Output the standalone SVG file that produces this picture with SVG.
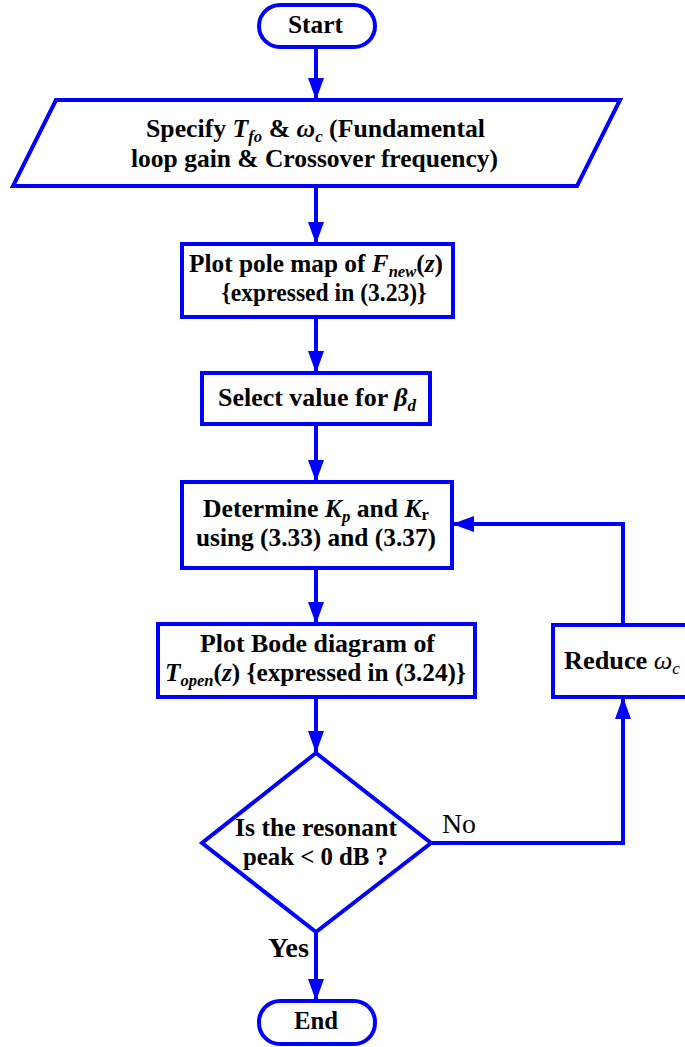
<svg xmlns="http://www.w3.org/2000/svg" width="685" height="1047" viewBox="0 0 685 1047">
<defs>
<style>
.shape{fill:#fff;stroke:#0000ff;stroke-width:4;stroke-linejoin:miter}
.conn{fill:none;stroke:#0000ff;stroke-width:4}
.t{font-family:"Liberation Serif","Times New Roman",serif;font-weight:bold;font-size:26px;fill:#000}
.m{font-style:italic}
.s{font-size:17px;font-style:italic}
.lbl{font-family:"Liberation Serif","Times New Roman",serif;fill:#000}
</style>
<marker id="ah" viewBox="0 0 22 16" refX="22" refY="8" markerWidth="22" markerHeight="16" markerUnits="userSpaceOnUse" orient="auto">
<path d="M0,0 L22,8 L0,16 z" fill="#0000ff"/>
</marker>
</defs>
<rect width="685" height="1047" fill="#fff"/>

<g id="connectors">
<line class="conn" x1="316" y1="48" x2="316" y2="100" marker-end="url(#ah)"/>
<line class="conn" x1="316" y1="186" x2="316" y2="244" marker-end="url(#ah)"/>
<line class="conn" x1="316" y1="317" x2="316" y2="373" marker-end="url(#ah)"/>
<line class="conn" x1="316" y1="424" x2="316" y2="482" marker-end="url(#ah)"/>
<line class="conn" x1="316" y1="568" x2="316" y2="624" marker-end="url(#ah)"/>
<line class="conn" x1="316" y1="697" x2="316" y2="753" marker-end="url(#ah)"/>
<line class="conn" x1="316" y1="932" x2="316" y2="1001" marker-end="url(#ah)"/>
<polyline class="conn" points="431,843 623,843 623,697" marker-end="url(#ah)"/>
<polyline class="conn" points="623,625 623,524 452,524" marker-end="url(#ah)"/>
<text class="lbl" x="442" y="833" font-size="28" textLength="34" lengthAdjust="spacingAndGlyphs">No</text>
<text class="lbl" x="268" y="957" font-size="28" font-weight="bold" textLength="41" lengthAdjust="spacingAndGlyphs">Yes</text>
</g>

<g id="start">
<rect class="shape" x="259" y="5" width="116" height="42" rx="21" ry="21"/>
<text class="t" x="315.5" y="33" text-anchor="middle" textLength="55" lengthAdjust="spacingAndGlyphs">Start</text>
</g>

<g id="specify">
<polygon class="shape" points="56,100 620,100 577,186 13,186"/>
<text class="t" x="315.5" y="137" text-anchor="middle" textLength="339" lengthAdjust="spacingAndGlyphs">Specify <tspan class="m">T</tspan><tspan class="s" dy="5">fo</tspan><tspan dy="-5"> &amp; </tspan><tspan class="m">ω</tspan><tspan class="s" dy="5">c</tspan><tspan dy="-5"> (Fundamental</tspan></text>
<text class="t" x="314.5" y="167" text-anchor="middle" textLength="367" lengthAdjust="spacingAndGlyphs">loop gain &amp; Crossover frequency)</text>
</g>

<g id="polemap">
<rect class="shape" x="182" y="244" width="271" height="73"/>
<text class="t" x="316" y="272" text-anchor="middle" textLength="254" lengthAdjust="spacingAndGlyphs">Plot pole map of <tspan class="m">F</tspan><tspan class="s" dy="5">new</tspan><tspan dy="-5">(</tspan><tspan class="m">z</tspan>)</text>
<text class="t" x="324" y="301" text-anchor="middle" textLength="205" lengthAdjust="spacingAndGlyphs">{expressed in (3.23)}</text>
</g>

<g id="select">
<rect class="shape" x="202" y="373" width="228" height="51"/>
<text class="t" x="317" y="406" text-anchor="middle" textLength="198" lengthAdjust="spacingAndGlyphs">Select value for <tspan class="m">β</tspan><tspan class="s" dy="5">d</tspan></text>
</g>

<g id="determine">
<rect class="shape" x="182" y="482" width="270" height="86"/>
<text class="t" x="316" y="517" text-anchor="middle" textLength="226" lengthAdjust="spacingAndGlyphs">Determine <tspan class="m">K</tspan><tspan class="s" dy="5">p</tspan><tspan dy="-5"> and </tspan><tspan class="m">K</tspan><tspan font-size="17" dy="3">r</tspan></text>
<text class="t" x="316" y="546" text-anchor="middle" textLength="240" lengthAdjust="spacingAndGlyphs">using (3.33) and (3.37)</text>
</g>

<g id="bode">
<rect class="shape" x="158" y="624" width="317" height="73"/>
<text class="t" x="317.5" y="652" text-anchor="middle" textLength="235" lengthAdjust="spacingAndGlyphs">Plot Bode diagram of</text>
<text class="t" x="315.5" y="681" text-anchor="middle" textLength="301" lengthAdjust="spacingAndGlyphs"><tspan class="m">T</tspan><tspan class="s" dy="5">open</tspan><tspan dy="-5">(</tspan><tspan class="m">z</tspan>) {expressed in (3.24)}</text>
</g>

<g id="reduce">
<rect class="shape" x="553" y="625" width="150" height="72"/>
<text class="t" x="564" y="669" textLength="116" lengthAdjust="spacingAndGlyphs">Reduce <tspan class="m" font-weight="normal">ω</tspan><tspan class="s" font-weight="normal" dy="5">c</tspan></text>
</g>

<g id="decision">
<polygon class="shape" points="316,753 431,843 316,932 202,843"/>
<text class="t" x="316" y="836" text-anchor="middle" textLength="162" lengthAdjust="spacingAndGlyphs">Is the resonant</text>
<text class="t" x="315.5" y="865" text-anchor="middle" textLength="145" lengthAdjust="spacingAndGlyphs">peak &lt; 0 dB ?</text>
</g>

<g id="end">
<rect class="shape" x="259" y="1001" width="116" height="43" rx="21" ry="21"/>
<text class="t" x="316" y="1029" text-anchor="middle" textLength="44" lengthAdjust="spacingAndGlyphs">End</text>
</g>
</svg>
